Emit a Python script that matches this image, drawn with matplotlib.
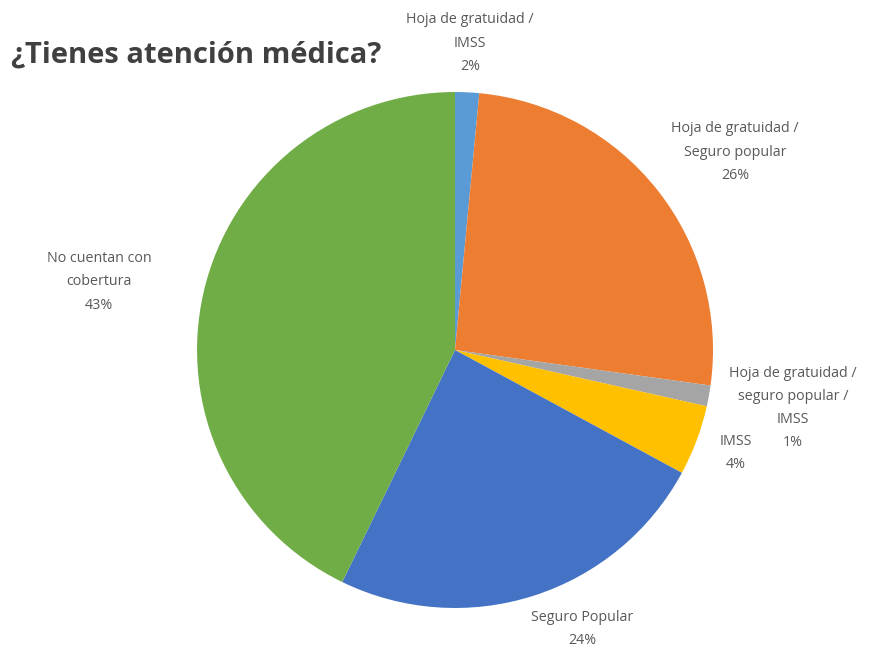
import matplotlib
matplotlib.use("Agg")
import matplotlib.pyplot as plt

categories = [
    "Hoja de gratuidad /\nIMSS",
    "Hoja de gratuidad /\nSeguro popular",
    "Hoja de gratuidad /\nseguro popular /\nIMSS",
    "IMSS",
    "Seguro Popular",
    "No cuentan con\ncobertura",
]
values = [1.5, 25.7, 1.3, 4.4, 24.3, 42.8]
pct_labels = ["2%", "26%", "1%", "4%", "24%", "43%"]
colors = ["#5B9BD5", "#ED7D31", "#A5A5A5", "#FFC000", "#4472C4", "#70AD47"]

# label positions (layout, data units relative to pie centre)
label_pos = [(0.058, 1.19), (1.085, 0.767), (1.31, -0.225), (1.09, -0.40),
             (0.492, -1.081), (-1.38, 0.264)]

plt.rcParams['font.family'] = ['Open Sans', 'DejaVu Sans']

fig = plt.figure(figsize=(8.82, 6.49), dpi=100)
ax = fig.add_axes([0.2234, 0.0632, 0.585, 0.795])
ax.pie(values, colors=colors, startangle=90, counterclock=False, radius=1.0,
       wedgeprops=dict(linewidth=0))
ax.set_xlim(-1, 1)
ax.set_ylim(-1, 1)
ax.set_aspect('equal')
ax.axis('off')

for cat, pct, (x, y) in zip(categories, pct_labels, label_pos):
    ax.text(x, y, f"{cat}\n{pct}", ha='center', va='center', fontsize=10.3,
            color='#595959', linespacing=1.75, clip_on=False)

fig.text(0.012, 0.915, "¿Tienes atención médica?", fontsize=21, fontweight='bold',
         color='#404040', ha='left', va='center')

fig.savefig("out.png", dpi=100)
